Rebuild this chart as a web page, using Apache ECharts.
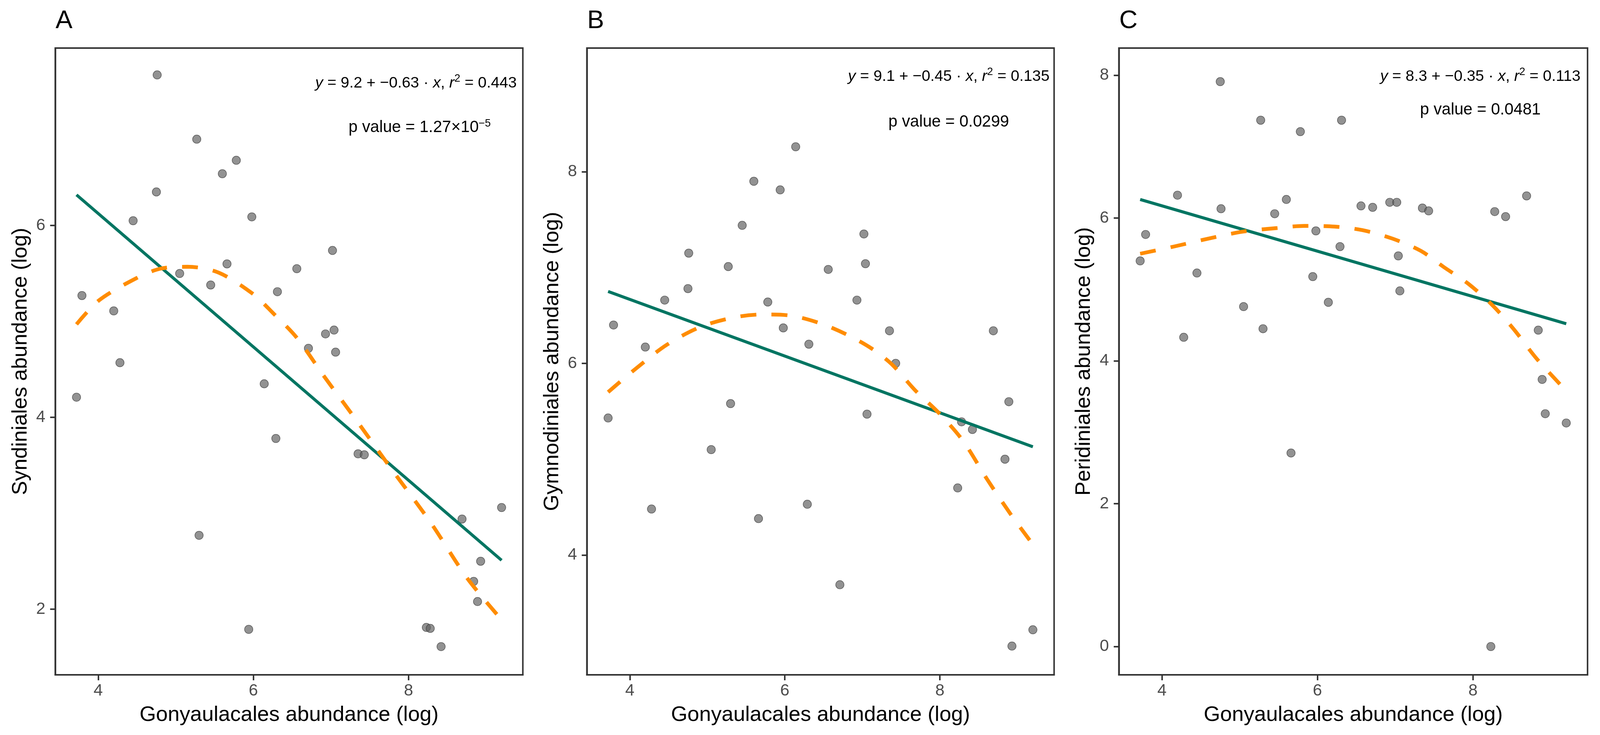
<!DOCTYPE html>
<html>
<head>
<meta charset="utf-8">
<script src="https://cdn.jsdelivr.net/npm/echarts@6/dist/echarts.min.js"></script>
<style>
html,body{margin:0;padding:0;background:#fff;overflow:hidden;}
#chart{position:absolute;left:0;top:0;}
</style>
</head>
<body>
<div id="chart"></div>
<script>
// Shared x values: Gonyaulacales abundance (log)
const gonyaulacales = [3.72, 3.79, 4.20, 4.28, 4.45, 4.75, 4.76, 5.05, 5.27, 5.30, 5.45, 5.60, 5.66, 5.78, 5.94, 5.98, 6.14, 6.29, 6.31, 6.56, 6.71, 6.93, 7.02, 7.04, 7.06, 7.35, 7.43, 8.23, 8.28, 8.42, 8.69, 8.84, 8.89, 8.93, 9.20];
// Panel A: Syndiniales
const syndiniales = [4.21, 5.27, 5.11, 4.57, 6.05, 6.35, 7.57, 5.50, 6.90, 2.77, 5.38, 6.54, 5.60, 6.68, 1.79, 6.09, 4.35, 3.78, 5.31, 5.55, 4.72, 4.87, 5.74, 4.91, 4.68, 3.62, 3.61, 1.81, 1.80, 1.61, 2.94, 2.29, 2.08, 2.50, 3.06];
// Panel B: Gymnodiniales
const gymnodiniales = [5.43, 6.40, 6.17, 4.48, 6.66, 6.78, 7.15, 5.10, 7.01, 5.58, 7.44, 7.90, 4.38, 6.64, 7.81, 6.37, 8.26, 4.53, 6.20, 6.98, 3.69, 6.66, 7.35, 7.04, 5.47, 6.34, 6.00, 4.70, 5.39, 5.31, 6.34, 5.00, 5.60, 3.05, 3.22];
// Panel C: Peridiniales
const peridiniales = [5.40, 5.77, 6.32, 4.33, 5.23, 7.91, 6.13, 4.76, 7.37, 4.45, 6.06, 6.26, 2.71, 7.21, 5.18, 5.82, 4.82, 5.60, 7.37, 6.17, 6.15, 6.22, 6.22, 5.47, 4.98, 6.14, 6.10, 0.00, 6.09, 6.02, 6.31, 4.43, 3.74, 3.26, 3.13];

// Linear fits (end points)
const linX = [3.72, 9.20];
const linA = [6.32, 2.51];
const linB = [6.75, 5.13];
const linC = [6.26, 4.52];

// Polynomial (dashed) fits
const curveAX = [3.72, 4.01, 4.49, 4.80, 5.15, 5.55, 5.99, 6.25, 6.56, 6.91, 7.31, 7.79, 8.28, 8.76, 9.20];
const curveAY = [4.97, 5.22, 5.45, 5.55, 5.57, 5.51, 5.29, 5.09, 4.83, 4.43, 3.99, 3.45, 2.91, 2.32, 1.89];
const curveBX = [3.72, 4.04, 4.47, 4.91, 5.35, 5.71, 6.06, 6.45, 6.80, 7.11, 7.38, 7.68, 7.99, 8.30, 8.61, 8.91, 9.20];
const curveBY = [5.70, 5.92, 6.19, 6.38, 6.48, 6.51, 6.50, 6.42, 6.30, 6.16, 5.99, 5.72, 5.48, 5.19, 4.79, 4.43, 4.11];
const curveCX = [3.72, 4.15, 4.59, 5.04, 5.48, 5.83, 6.22, 6.58, 6.97, 7.33, 7.63, 7.94, 8.25, 8.52, 8.82, 9.20];
const curveCY = [5.50, 5.60, 5.71, 5.81, 5.86, 5.89, 5.88, 5.83, 5.71, 5.54, 5.31, 5.08, 4.78, 4.45, 4.03, 3.58];

// Axis ticks
const xTicks = [4, 6, 8];
const yTicksA = [2, 4, 6];
const yTicksB = [4, 6, 8];
const yTicksC = [0, 2, 4, 6, 8];

const panelLabels = ['A', 'B', 'C'];
const yTitles = ['Syndiniales abundance (log)', 'Gymnodiniales abundance (log)', 'Peridiniales abundance (log)'];
const xTitle = 'Gonyaulacales abundance (log)';
const equations = [
  ['9.2', '−0.63', '0.443'],
  ['9.1', '−0.45', '0.135'],
  ['8.3', '−0.35', '0.113']
];
const pValues = ['1.27×10{s|−5}', '0.0299', '0.0481'];

const FONT = '"Liberation Sans", Arial, Helvetica, sans-serif';
const zip = (xs, ys) => xs.map((x, i) => [x, ys[i]]);

// Layout is designed for a 4373 x 1881 canvas; scale to the real viewport
const W = window.innerWidth || 4373, H = window.innerHeight || 1881;
const sx = W / 4373, sy = H / 1881, sf = (sx + sy) / 2;
const X = v => v * sx, Y = v => v * sy, F = v => v * sf;
const el = document.getElementById('chart');
el.style.width = W + 'px';
el.style.height = H + 'px';

const panels = [
  {left: 151, width: 1278, ys: syndiniales, yMin: 1.316, yMax: 7.85, yTicks: yTicksA, lin: linA, cx: curveAX, cy: curveAY,
   eq: [1137, 213], pv: [1147, 327]},
  {left: 1604, width: 1277, ys: gymnodiniales, yMin: 2.75, yMax: 9.29, yTicks: yTicksB, lin: linB, cx: curveBX, cy: curveBY,
   eq: [2593, 196], pv: [2593, 313]},
  {left: 3058, width: 1281, ys: peridiniales, yMin: -0.396, yMax: 8.38, yTicks: yTicksC, lin: linC, cx: curveCX, cy: curveCY,
   eq: [4046, 196], pv: [4046, 282]}
];

const grid = [], xAxis = [], yAxis = [], series = [], graphic = [];
const axisCommon = () => ({
  type: 'value',
  splitLine: {show: false},
  axisLine: {show: true, onZero: false, lineStyle: {color: '#333', width: F(4)}},
  nameTextStyle: {fontSize: F(56), color: '#000', fontFamily: FONT},
  nameMoveOverlap: false
});

panels.forEach((p, i) => {
  grid.push({left: X(p.left), top: Y(123), width: X(p.width), height: Y(1604), show: true,
    borderColor: '#333', borderWidth: F(4), containLabel: false});
  xAxis.push(Object.assign(axisCommon(), {
    gridIndex: i, min: 3.446, max: 9.474,
    name: xTitle, nameLocation: 'middle', nameGap: Y(76),
    axisTick: {show: true, length: Y(14), customValues: xTicks, lineStyle: {color: '#333', width: F(4)}},
    axisLabel: {customValues: xTicks, fontSize: F(44), color: '#4d4d4d', fontFamily: FONT, margin: Y(20)}
  }));
  yAxis.push(Object.assign(axisCommon(), {
    gridIndex: i, min: p.yMin, max: p.yMax,
    name: yTitles[i], nameLocation: 'middle', nameGap: X(66), nameRotate: 90,
    axisTick: {show: true, length: X(14), customValues: p.yTicks, lineStyle: {color: '#333', width: F(4)}},
    axisLabel: {customValues: p.yTicks, fontSize: F(44), color: '#4d4d4d', fontFamily: FONT, margin: X(27)}
  }));
  series.push({
    type: 'scatter', xAxisIndex: i, yAxisIndex: i, z: 2,
    data: zip(gonyaulacales, p.ys), symbolSize: F(22),
    itemStyle: {color: 'rgba(95,95,95,0.85)', borderColor: 'rgba(60,60,60,0.9)', borderWidth: F(1.5)},
    silent: true
  });
  series.push({
    type: 'line', xAxisIndex: i, yAxisIndex: i, z: 3,
    data: zip(linX, p.lin), showSymbol: false, symbol: 'none',
    lineStyle: {color: '#007562', width: F(8)}, silent: true
  });
  series.push({
    type: 'line', xAxisIndex: i, yAxisIndex: i, z: 4,
    data: zip(p.cx, p.cy), showSymbol: false, symbol: 'none', smooth: 0.3,
    lineStyle: {color: '#ff8c00', width: F(10), type: [F(42), F(40)], cap: 'butt'}, silent: true
  });
  graphic.push({
    type: 'text', left: X(p.left + 1), top: Y(22),
    style: {text: panelLabels[i], fontSize: F(67), fill: '#000', fontFamily: FONT}
  });
  const e = equations[i];
  graphic.push({
    type: 'text', x: X(p.eq[0]), y: Y(p.eq[1]),
    style: {
      text: '{i|y} = ' + e[0] + ' + ' + e[1] + ' · {i|x}, {i|r}{s|2} = ' + e[2],
      align: 'center', verticalAlign: 'middle',
      fontSize: F(41), fill: '#000', fontFamily: FONT,
      rich: {
        i: {fontStyle: 'italic', fontSize: F(41), fontFamily: FONT, fill: '#000'},
        s: {fontSize: F(28), fontFamily: FONT, fill: '#000', verticalAlign: 'top', padding: [0, 0, F(24), 0]}
      }
    }
  });
  graphic.push({
    type: 'text', x: X(p.pv[0]), y: Y(p.pv[1]),
    style: {
      text: 'p value = ' + pValues[i],
      align: 'center', verticalAlign: 'middle',
      fontSize: F(43), fill: '#000', fontFamily: FONT,
      rich: {
        s: {fontSize: F(28), fontFamily: FONT, fill: '#000', verticalAlign: 'top', padding: [0, 0, F(22), 0]}
      }
    }
  });
});

const chart = echarts.init(el, null, {renderer: 'canvas', width: W, height: H});
chart.setOption({
  backgroundColor: '#fff',
  animation: false,
  grid, xAxis, yAxis, series, graphic
});
</script>
</body>
</html>
